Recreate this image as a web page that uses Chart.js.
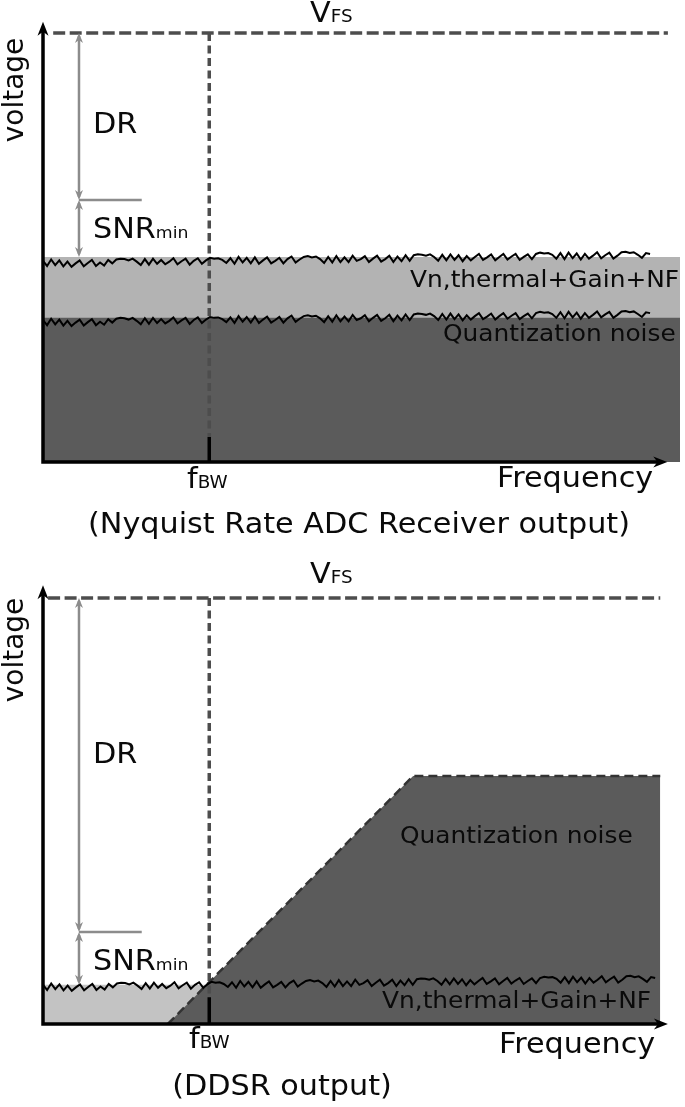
<!DOCTYPE html>
<html>
<head>
<meta charset="utf-8">
<script src="https://cdn.jsdelivr.net/npm/chart.js@4.4.0/dist/chart.umd.min.js"></script>
<style>
  html, body { margin: 0; padding: 0; background: #fff; }
  #wrap { position: relative; width: 685px; height: 1107px; }
  canvas { position: absolute; left: 0; }
  #chart_top { top: 0; }
  #chart_bottom { top: 550px; }
</style>
</head>
<body>
<div id="wrap">
  <canvas id="chart_top" width="685" height="550"></canvas>
  <canvas id="chart_bottom" width="685" height="557"></canvas>
</div>
<script>
// frequency and voltage are both in arbitrary units, 0..100 (100 = V_FS)
const fBW = 26.1;
const vFS = 100;

// ---- top: Nyquist rate ADC receiver
const nyqVfsSpan = [1.6, 98.1];
const nyqThermalTop = 47.8;
const nyqQuantTop = 33.6;
const nyqThermalLevel = 46.3;
const nyqQuantLevel = 32.5;
const nyqSnrMin = 61.1;
const nyqNoiseEnd = 95.3;

// ---- bottom: DDSR
const ddsrVfsSpan = [0.8, 96.9];
const ddsrQuantX = [19.6, 58.1, 96.9];
const ddsrQuantY = [0, 58.2, 58.2];
const ddsrThermalTop = 9.2;
const ddsrThermalLevel = 8.6;
const ddsrSnrMin = 21.6;
const ddsrNoiseEnd = 96.1;

// the wiggle of the noise floor (same trace reused in every noise line)
const noiseShape = [
  0.6,-0.6,0.9,-0.4,0.7,-0.7,0.4,-0.8,0.0,0.7,-0.7,0.1,0.8,-0.6,0.2,
  -0.5,0.8,0.0,0.9,1.1,1.0,0.7,1.1,0.4,-0.4,1.0,-0.3,1.1,-0.1,0.8,
  -0.2,0.4,1.2,-0.2,0.5,1.1,-0.3,0.6,1.2,-0.1,0.7,1.3,1.1,1.2,0.8,
  0.1,1.2,-0.1,1.5,0.2,1.3,0.0,1.4,-0.1,0.7,1.4,0.0,0.6,1.3,0.0,
  1.0,1.6,0.2,0.9,1.5,1.7,1.4,1.6,1.0,0.1,1.5,0.2,1.7,0.3,1.4,
  0.3,1.8,0.6,1.0,1.7,0.3,1.1,1.8,0.4,1.0,1.8,0.3,1.6,0.5,1.9,
  0.6,1.9,2.1,2.0,1.8,2.1,1.5,0.6,2.0,0.7,2.1,0.8,1.9,0.5,1.7,
  0.7,1.5,2.2,0.8,1.4,2.1,0.7,1.5,2.2,0.9,1.6,2.2,0.8,1.5,2.1,
  1.0,2.2,2.5,2.3,2.4,2.0,1.1,2.4,1.0,2.5,1.2,2.3,0.9,2.2,1.1,
  1.8,2.6,1.2,1.9,2.5,1.1,1.8,2.6,2.7,2.4,2.6,2.0,1.3,2.4,2.2
];

const DARK = "#5b5b5b";
const DASH = "#4d4d4d";
const ARROW = "#8c8c8c";
const STRETCH = 1.08;
const FONT = "'DejaVu Sans', sans-serif";

Chart.defaults.font.family = FONT;

function noiseSeries(level, end) {
    let n = noiseShape.length;
    return noiseShape.map((v, i) => ({ x: end * i / (n - 1), y: level + v }));
}

function flat(y, x0, x1) {
    return [{ x: x0, y: y }, { x: x1, y: y }];
}

function lineSet(data, color, width, dash, order) {
    return {
        data: data,
        borderColor: color,
        borderWidth: width,
        borderDash: dash || [],
        pointRadius: 0,
        tension: 0,
        fill: false,
        clip: false,
        order: order
    };
}

function fillSet(data, color, order) {
    return {
        data: data,
        borderWidth: 0,
        borderColor: color,
        backgroundColor: color,
        pointRadius: 0,
        tension: 0,
        fill: "origin",
        clip: false,
        order: order
    };
}

// text with optional smaller suffix, e.g. V + FS
function drawLabel(ctx, parts, x, y, align) {
    ctx.save();
    ctx.fillStyle = "#0a0a0a";
    ctx.textBaseline = "alphabetic";
    ctx.textAlign = "left";
    let total = 0;
    parts.forEach(p => {
        ctx.font = p[1] + "px " + FONT;
        total += ctx.measureText(p[0]).width;
    });
    ctx.translate(x, y);
    ctx.scale(STRETCH, 1);
    let cx = align === "center" ? -total / 2 : 0;
    parts.forEach(p => {
        ctx.font = p[1] + "px " + FONT;
        ctx.fillText(p[0], cx, 0);
        cx += ctx.measureText(p[0]).width;
    });
    ctx.restore();
}

function arrowHead(ctx, x, y, dir, len, half, color) {
    // dir: "up", "down", "right"
    ctx.save();
    ctx.fillStyle = color;
    ctx.beginPath();
    if (dir === "up") {
        ctx.moveTo(x, y); ctx.lineTo(x - half, y + len); ctx.lineTo(x, y + len * 0.7); ctx.lineTo(x + half, y + len);
    } else if (dir === "down") {
        ctx.moveTo(x, y); ctx.lineTo(x - half, y - len); ctx.lineTo(x, y - len * 0.7); ctx.lineTo(x + half, y - len);
    } else {
        ctx.moveTo(x, y); ctx.lineTo(x - len, y - half); ctx.lineTo(x - len * 0.7, y); ctx.lineTo(x - len, y + half);
    }
    ctx.closePath();
    ctx.fill();
    ctx.restore();
}

function dimension(ctx, x, y0, y1) {
    ctx.save();
    ctx.strokeStyle = ARROW;
    ctx.lineWidth = 2.5;
    ctx.beginPath();
    ctx.moveTo(x, y0 + 3);
    ctx.lineTo(x, y1 - 3);
    ctx.stroke();
    ctx.restore();
    arrowHead(ctx, x, y0, "up", 10, 4, ARROW);
    arrowHead(ctx, x, y1, "down", 10, 4, ARROW);
}

const diagramPlugin = {
    id: "diagram",
    afterDatasetsDraw(chart, args, opts) {
        const ctx = chart.ctx;
        const sx = chart.scales.x, sy = chart.scales.y;
        const x0 = sx.getPixelForValue(0), y0 = sy.getPixelForValue(0);

        // axes
        ctx.save();
        ctx.strokeStyle = "#000";
        ctx.lineWidth = 3.5;
        ctx.beginPath();
        ctx.moveTo(x0, y0 + 1.7);
        ctx.lineTo(x0, sy.getPixelForValue(opts.yTip) + 8);
        ctx.moveTo(x0 - 1.7, y0);
        ctx.lineTo(sx.getPixelForValue(opts.xTip) - 8, y0);
        ctx.stroke();
        ctx.restore();
        arrowHead(ctx, x0, sy.getPixelForValue(opts.yTip), "up", 14, 5.5, "#000");
        arrowHead(ctx, sx.getPixelForValue(opts.xTip), y0, "right", 14, 5.5, "#000");

        // DR and SNRmin dimension arrows
        const dx = sx.getPixelForValue(opts.dimX);
        const ySnr = sy.getPixelForValue(opts.snr);
        dimension(ctx, dx, sy.getPixelForValue(vFS), ySnr);
        dimension(ctx, dx, ySnr, sy.getPixelForValue(opts.floor));
        ctx.save();
        ctx.strokeStyle = ARROW;
        ctx.lineWidth = 2.5;
        ctx.beginPath();
        ctx.moveTo(dx, ySnr);
        ctx.lineTo(sx.getPixelForValue(opts.snrTickEnd), ySnr);
        ctx.stroke();
        ctx.restore();

        opts.labels.forEach(l => {
            if (l.rotate) {
                ctx.save();
                ctx.fillStyle = "#0a0a0a";
                ctx.font = l.size + "px " + FONT;
                ctx.textAlign = "center";
                ctx.textBaseline = "alphabetic";
                ctx.translate(l.x, l.y);
                ctx.rotate(-Math.PI / 2);
                ctx.fillText(l.text, 0, 0);
                ctx.restore();
            } else {
                drawLabel(ctx, l.parts, l.x, l.y, l.align);
            }
        });
    }
};

function baseOptions(padding, diagram) {
    return {
        responsive: false,
        animation: false,
        layout: { padding: padding },
        scales: {
            x: { type: "linear", min: 0, max: 100, display: false },
            y: { type: "linear", min: 0, max: 100, display: false }
        },
        plugins: {
            legend: { display: false },
            tooltip: { enabled: false },
            diagram: diagram
        }
    };
}

// -----------------TOP CHART (Nyquist)-----------------
var ChartTop = new Chart("chart_top", {
    type: "line",
    data: {
        datasets: [
            fillSet(flat(nyqThermalTop, 0, 100), "#b3b3b3", 10),
            fillSet(flat(nyqQuantTop, 0, 100), DARK, 9),
            lineSet([{ x: fBW, y: vFS }, { x: fBW, y: 5.8 }], DASH, 3.5, [8, 4.5], 8),
            lineSet([{ x: fBW, y: 5.8 }, { x: fBW, y: 0 }], "#000", 3.5, null, 7),
            lineSet(flat(vFS, nyqVfsSpan[0], nyqVfsSpan[1]), DASH, 3.5, [12, 4.5], 6),
            lineSet(noiseSeries(nyqQuantLevel, nyqNoiseEnd), "#000", 2, null, 2),
            lineSet(noiseSeries(nyqThermalLevel, nyqNoiseEnd), "#000", 2, null, 1)
        ]
    },
    plugins: [diagramPlugin],
    options: baseOptions({ left: 43, right: 5, top: 33, bottom: 88 }, {
        yTip: 102.6, xTip: 98.0, dimX: 5.65, snr: nyqSnrMin, floor: nyqThermalTop, snrTickEnd: 15.5,
        labels: [
            { parts: [["V", 28], ["FS", 17]], x: 310, y: 22 },
            { rotate: true, text: "voltage", size: 28, x: 23, y: 90 },
            { parts: [["DR", 28]], x: 93, y: 133 },
            { parts: [["SNR", 28], ["min", 16]], x: 93, y: 238 },
            { parts: [["f", 28], ["BW", 17]], x: 187, y: 488 },
            { parts: [["Frequency", 28]], x: 497, y: 487 },
            { parts: [["(Nyquist Rate ADC Receiver output)", 28]], x: 359, y: 533, align: "center" },
            { parts: [["Vn,thermal+Gain+NF", 23]], x: 410, y: 287 },
            { parts: [["Quantization noise", 23]], x: 443, y: 341 }
        ]
    })
});

// -----------------BOTTOM CHART (DDSR)-----------------
var ChartBottom = new Chart("chart_bottom", {
    type: "line",
    data: {
        datasets: [
            fillSet(flat(ddsrThermalTop, 0, 60), "#c3c3c3", 10),
            fillSet(ddsrQuantX.map((x, i) => ({ x: x, y: ddsrQuantY[i] })), DARK, 9),
            lineSet(ddsrQuantX.map((x, i) => ({ x: x, y: ddsrQuantY[i] })), "#333", 2.5, [9, 5], 5),
            lineSet([{ x: fBW, y: vFS }, { x: fBW, y: 6.3 }], DASH, 3.5, [8, 4.5], 8),
            lineSet([{ x: fBW, y: 6.3 }, { x: fBW, y: 0 }], "#000", 3.5, null, 7),
            lineSet(flat(vFS, ddsrVfsSpan[0], ddsrVfsSpan[1]), DASH, 3.5, [12, 4.5], 6),
            lineSet(noiseSeries(ddsrThermalLevel, ddsrNoiseEnd), "#000", 2, null, 1)
        ]
    },
    plugins: [diagramPlugin],
    options: baseOptions({ left: 43, right: 5, top: 48, bottom: 83 }, {
        yTip: 103, xTip: 98.1, dimX: 5.65, snr: ddsrSnrMin, floor: ddsrThermalTop, snrTickEnd: 15.5,
        labels: [
            { parts: [["V", 28], ["FS", 17]], x: 310, y: 33 },
            { rotate: true, text: "voltage", size: 28, x: 23, y: 100 },
            { parts: [["DR", 28]], x: 93, y: 213 },
            { parts: [["SNR", 28], ["min", 16]], x: 93, y: 420 },
            { parts: [["f", 28], ["BW", 17]], x: 189, y: 498 },
            { parts: [["Frequency", 28]], x: 499, y: 503 },
            { parts: [["(DDSR output)", 28]], x: 282, y: 545, align: "center" },
            { parts: [["Vn,thermal+Gain+NF", 23]], x: 382, y: 458 },
            { parts: [["Quantization noise", 23]], x: 400, y: 293 }
        ]
    })
});
</script>
</body>
</html>
